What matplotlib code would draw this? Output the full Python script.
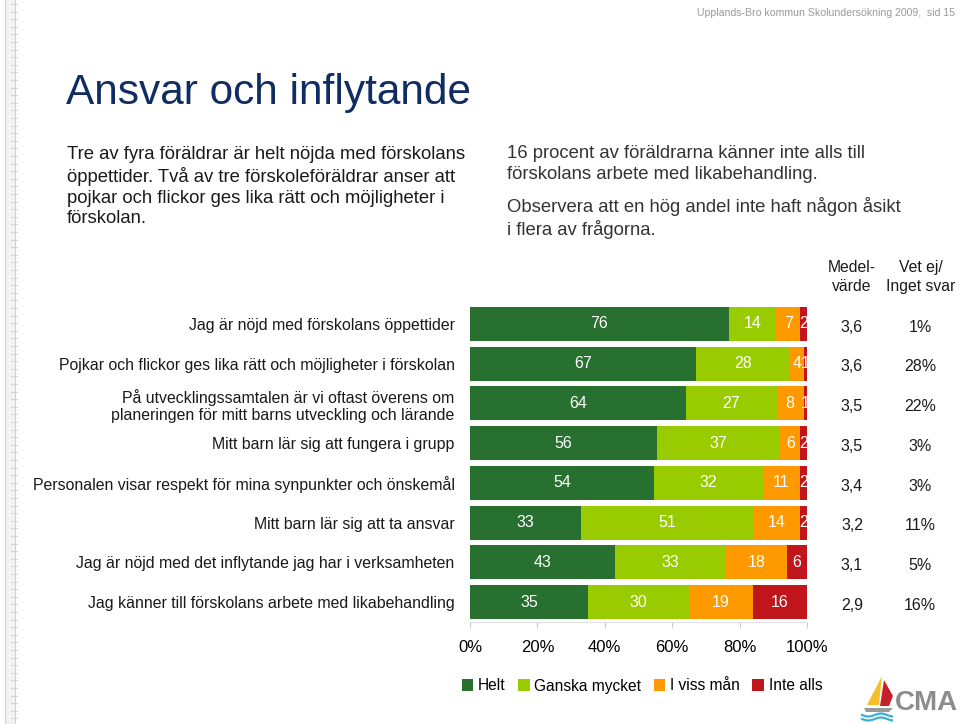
import numpy as np
import matplotlib
matplotlib.use('Agg')
import matplotlib.pyplot as plt
from matplotlib.patches import Patch, Polygon, Rectangle
import matplotlib.transforms as mtransforms

plt.rcParams['font.family'] = ['Liberation Sans', 'DejaVu Sans']

questions = ['Jag är nöjd med förskolans öppettider',
             'Pojkar och flickor ges lika rätt och möjligheter i förskolan',
             'På utvecklingssamtalen är vi oftast överens om\nplaneringen för mitt barns utveckling och lärande',
             'Mitt barn lär sig att fungera i grupp',
             'Personalen visar respekt för mina synpunkter och önskemål',
             'Mitt barn lär sig att ta ansvar',
             'Jag är nöjd med det inflytande jag har i verksamheten',
             'Jag känner till förskolans arbete med likabehandling']
helt = [76, 67, 64, 56, 54, 33, 43, 35]
ganska = [14, 28, 27, 37, 32, 51, 33, 30]
viss = [7, 4, 8, 6, 11, 14, 18, 19]
inte = [2, 1, 1, 2, 2, 2, 6, 16]
medel = ['3,6', '3,6', '3,5', '3,5', '3,4', '3,2', '3,1', '2,9']
vetej = ['1%', '28%', '22%', '3%', '3%', '11%', '5%', '16%']
series_names = ['Helt', 'Ganska mycket', 'I viss mån', 'Inte alls']
colors = ['#28702f', '#99cc00', '#ff9900', '#c0151b']

W, H = 960, 724
fig = plt.figure(figsize=(W / 100, H / 100), dpi=100)

# page overlay in pixel coordinates
bg = fig.add_axes([0, 0, 1, 1])
bg.set_xlim(0, W)
bg.set_ylim(H, 0)
bg.axis('off')

# ruler strip on the left edge
bg.add_patch(Rectangle((5, 0), 10, H, facecolor='#f2f2f2', edgecolor='none'))
bg.plot([5, 5], [0, H], color='#d0d0d0', lw=0.8)
bg.plot([15, 15], [0, H], color='#d0d0d0', lw=0.8)
for yy in np.arange(4, H, 7.6):
    bg.plot([11, 17], [yy, yy], color='#cfcfcf', lw=0.6)

bg.text(955, 13, 'Upplands-Bro kommun Skolundersökning 2009,  sid 15',
        ha='right', va='center', fontsize=7.6, color='#9a9a9a')
bg.text(66, 93, 'Ansvar och inflytande', ha='left', va='center',
        fontsize=30.5, color='#102d63')
bg.text(67, 146, 'Tre av fyra föräldrar är helt nöjda med förskolans\n'
        'öppettider. Två av tre förskoleföräldrar anser att\n'
        'pojkar och flickor ges lika rätt och möjligheter i\n'
        'förskolan.', ha='left', va='top', fontsize=13.3,
        color='#1a1a1a', linespacing=1.28)
bg.text(507, 145, '16 procent av föräldrarna känner inte alls till\n'
        'förskolans arbete med likabehandling.', ha='left', va='top',
        fontsize=13.3, color='#333333', linespacing=1.28)
bg.text(507, 197, 'Observera att en hög andel inte haft någon åsikt\n'
        'i flera av frågorna.', ha='left', va='top',
        fontsize=13.3, color='#333333', linespacing=1.28)
bg.text(852, 277, 'Medel-\nvärde', ha='center', va='center', fontsize=11.3,
        color='#1a1a1a', linespacing=1.3)
bg.text(921, 277, 'Vet ej/\nInget svar', ha='center', va='center', fontsize=11.3,
        color='#1a1a1a', linespacing=1.3)

# logo
bg.add_patch(Polygon([[867, 705], [882, 676], [879, 705]], closed=True,
                     facecolor='#f5c02a', edgecolor='none'))
bg.add_patch(Polygon([[880, 706], [884, 680], [893, 696], [889, 706]], closed=True,
                     facecolor='#c8202a', edgecolor='none'))
bg.add_patch(Polygon([[864, 708], [893, 708], [889, 712], [866, 712]], closed=True,
                     facecolor='#9a9a9a', edgecolor='none'))
xs = np.linspace(862, 892, 30)
bg.plot(xs, 715 + 1.5 * np.sin((xs - 862) / 4), color='#3ab0d8', lw=1.6)
bg.plot(xs, 719 + 1.5 * np.sin((xs - 862) / 4), color='#3ab0d8', lw=1.6)
bg.text(926, 703, 'CMA', ha='center', va='center', fontsize=20,
        fontweight='bold', color='#8c8c8c')

# bar chart
ax = fig.add_axes([470 / W, 1 - 622 / H, 337 / W, 318 / H])
data = np.array([helt, ganska, viss, inte], dtype=float)
pct = data / data.sum(axis=0) * 100
y = np.arange(len(questions))
left = np.zeros(len(questions))
for i in range(4):
    ax.barh(y, pct[i], left=left, height=0.85, color=colors[i], edgecolor='none')
    for j in range(len(questions)):
        ax.text(left[j] + pct[i][j] / 2, y[j], str(int(data[i][j])), ha='center',
                va='center', color='white', fontsize=11.5)
    left += pct[i]

ax.set_xlim(0, 100)
ax.set_ylim(len(questions) - 0.5, -0.5)
ax.set_xticks(np.arange(0, 101, 20))
ax.set_xticklabels([f'{v}%' for v in range(0, 101, 20)], fontsize=12)
ax.set_yticks(y)
ax.set_yticklabels(questions, fontsize=11.45, color='#1a1a1a', linespacing=1.15)
ax.tick_params(axis='y', length=0, pad=11)
ax.tick_params(axis='x', length=4, color='#c8c8c8', pad=9)
for s in ['top', 'right', 'left']:
    ax.spines[s].set_visible(False)
ax.spines['bottom'].set_color('#e0e0e0')

trans = mtransforms.blended_transform_factory(bg.transData, ax.transData)
for j in range(len(questions)):
    ax.text(852, y[j] + 0.08, medel[j], transform=trans, ha='center', va='center',
            fontsize=11.5, color='#1a1a1a')
    ax.text(920, y[j] + 0.08, vetej[j], transform=trans, ha='center', va='center',
            fontsize=11.5, color='#1a1a1a')

handles = [Patch(facecolor=c, edgecolor='none') for c in colors]
fig.legend(handles, series_names, loc='center', bbox_to_anchor=(642 / W, 1 - 686 / H),
           ncol=4, frameon=False, fontsize=11.2, handlelength=0.75, handleheight=0.75,
           handletextpad=0.3, columnspacing=0.8)

fig.savefig('out.png', dpi=100)
